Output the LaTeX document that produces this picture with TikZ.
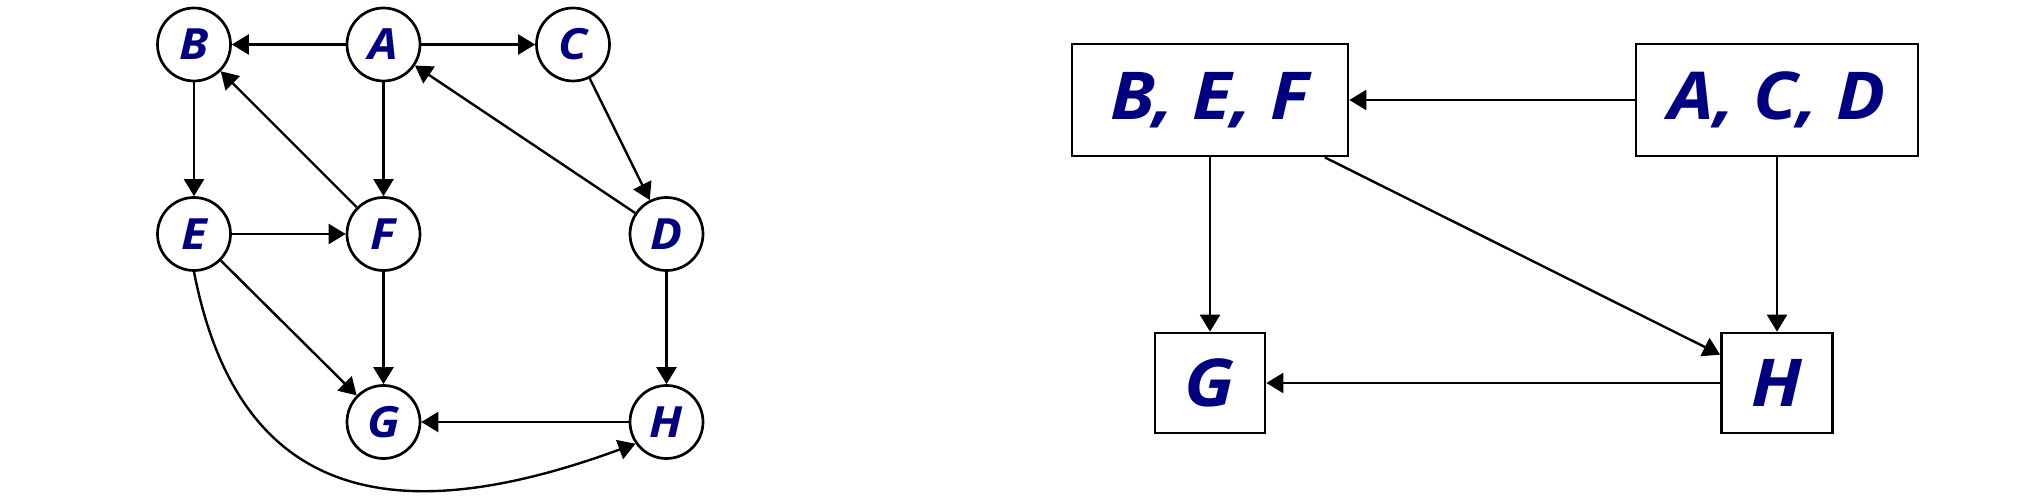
\documentclass[tikz,border=0pt]{standalone}
\usepackage{fontspec}
\setmainfont{Open Sans}[FakeStretch=1.1]
\usetikzlibrary{arrows.meta}
\definecolor{lbl}{RGB}{0,0,128}
\begin{document}
\begin{tikzpicture}[x=0.5pt,y=-0.5pt,
  vtx/.style={circle,draw,line width=1.35pt,minimum size=36.5pt,inner sep=0pt,
    text=lbl,font=\fontsize{21.5}{24}\selectfont\bfseries\itshape},
  grp/.style={rectangle,draw,line width=1.35pt,inner sep=0pt,
    text=lbl,font=\fontsize{33}{38}\selectfont\bfseries\itshape},
  edge/.style={line width=1.2pt,-{Triangle[length=8.5pt,width=10pt]}}]
\useasboundingbox (0,0) rectangle (2024,502);
% left graph
\node[vtx] (B) at (194,44.5) {B};
\node[vtx] (A) at (383.5,44.5) {A};
\node[vtx] (C) at (573,44.5) {C};
\node[vtx] (E) at (194,234) {E};
\node[vtx] (F) at (383.5,234) {F};
\node[vtx] (D) at (666.5,234) {D};
\node[vtx] (G) at (383.5,422) {G};
\node[vtx] (H) at (666.5,422) {H};
\draw[edge] (A) -- (B);
\draw[edge] (A) -- (C);
\draw[edge] (A) -- (F);
\draw[edge] (B) -- (E);
\draw[edge] (F) -- (B);
\draw[edge] (C) -- (D);
\draw[edge] (D) -- (A);
\draw[edge] (E) -- (F);
\draw[edge] (E) -- (G);
\draw[edge] (F) -- (G);
\draw[edge] (D) -- (H);
\draw[edge] (H) -- (G);
\draw[edge] (E.south) .. controls (239,502) and (395,532) .. (H.215);
% right graph
\node[grp,minimum width=138pt,minimum height=56pt] (BEF) at (1210,100) {B, E, F};
\node[grp,minimum width=141pt,minimum height=56pt] (ACD) at (1777,100) {A, C, D};
\node[grp,minimum width=55pt,minimum height=50pt] (G2) at (1210,383) {G};
\node[grp,minimum width=55.5pt,minimum height=50pt] (H2) at (1777,383) {H};
\draw[edge] (ACD) -- (BEF);
\draw[edge] (BEF) -- (G2);
\draw[edge] (ACD) -- (H2);
\draw[edge] (BEF) -- (H2);
\draw[edge] (H2) -- (G2);
\end{tikzpicture}
\end{document}
